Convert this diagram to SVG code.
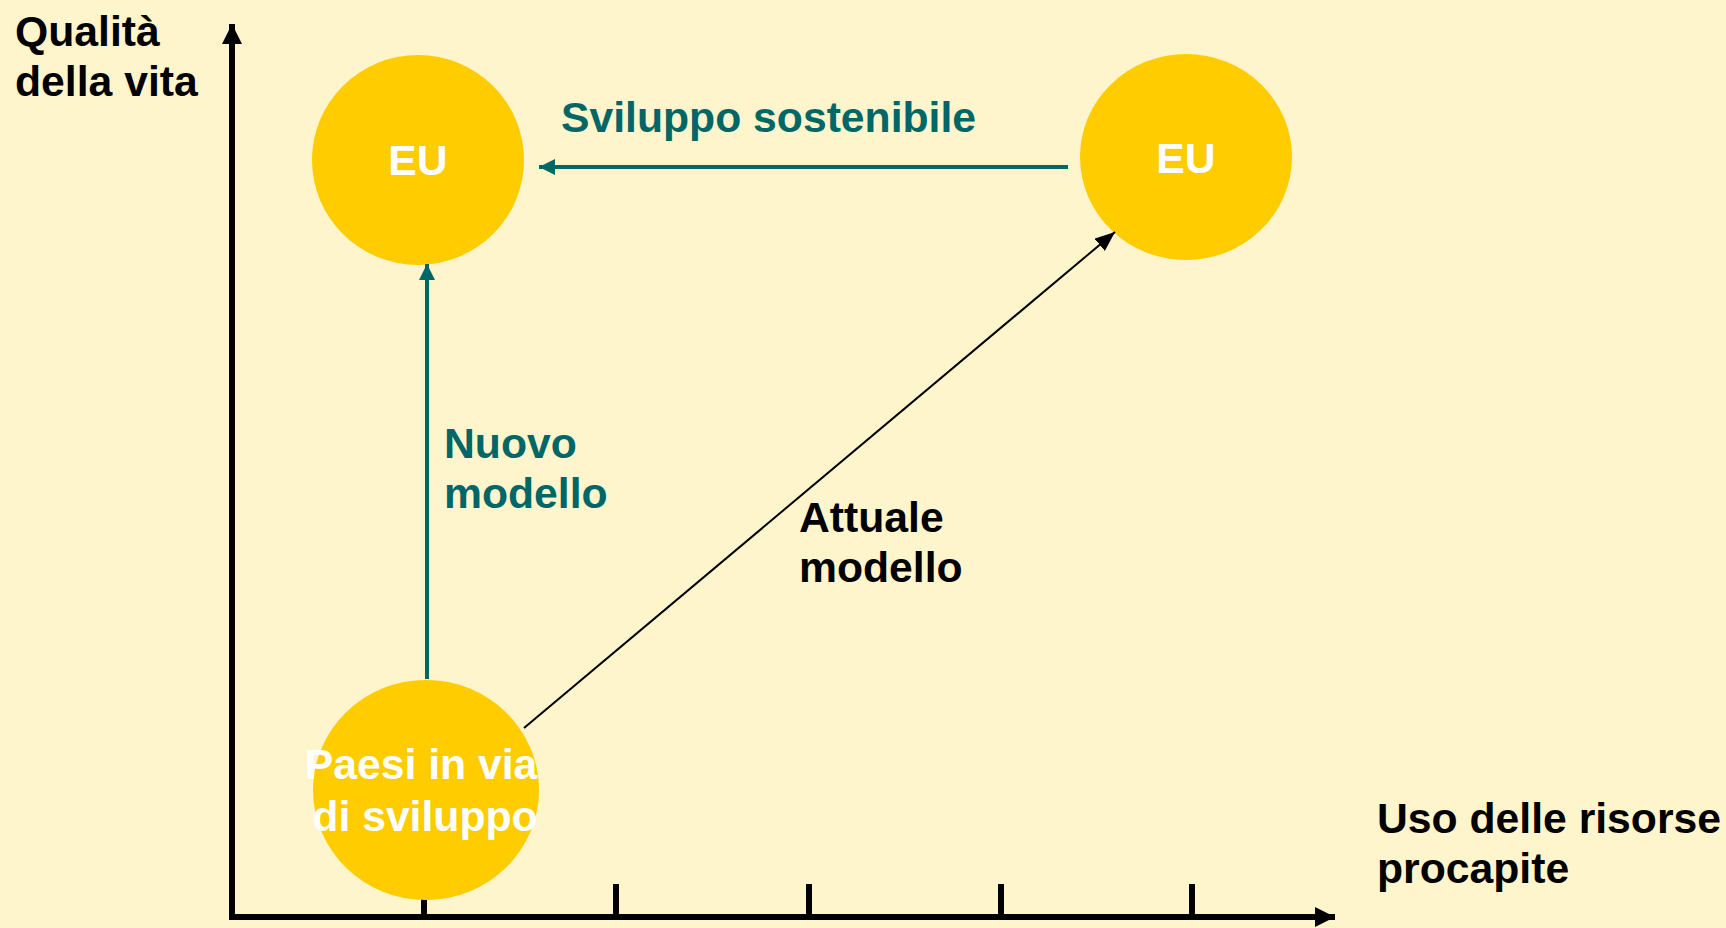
<svg xmlns="http://www.w3.org/2000/svg" width="1726" height="928" viewBox="0 0 1726 928">
<style>
.t{font-family:"Liberation Sans",Arial,sans-serif;font-weight:bold;font-size:42.7px}
.blk{fill:#000}
.teal{fill:#006666}
.wht{fill:#fff}
.circ{fill:#FFCC00}
</style>
<defs>
<marker id="axh" viewBox="0 0 20 20" refX="20" refY="10" markerWidth="22" markerHeight="20" orient="auto" markerUnits="userSpaceOnUse"><path d="M0,0 L20,10 L0,20 z" fill="#000"/></marker>
<marker id="th" viewBox="0 0 16 16" refX="16" refY="8" markerWidth="16" markerHeight="16" orient="auto" markerUnits="userSpaceOnUse"><path d="M0,0 L16,8 L0,16 z" fill="#006666"/></marker>
<marker id="bh" viewBox="0 0 20 16" refX="20" refY="8" markerWidth="20" markerHeight="16" orient="auto" markerUnits="userSpaceOnUse"><path d="M0,0 L20,8 L0,16 z" fill="#000"/></marker>
</defs>
<rect width="1726" height="928" fill="#FEF5CD"/>
<g id="axes">
<line x1="232" y1="919" x2="232" y2="24" stroke="#000" stroke-width="6" marker-end="url(#axh)"/>
<line x1="229" y1="917" x2="1335" y2="917" stroke="#000" stroke-width="6" marker-end="url(#axh)"/>
<g stroke="#000" stroke-width="6">
<line x1="424" y1="884" x2="424" y2="917"/>
<line x1="616" y1="884" x2="616" y2="917"/>
<line x1="809" y1="884" x2="809" y2="917"/>
<line x1="1001" y1="884" x2="1001" y2="917"/>
<line x1="1192" y1="884" x2="1192" y2="917"/>
</g>
<text class="t blk" x="15" y="46">Qualità</text>
<text class="t blk" x="15" y="96">della vita</text>
<text class="t blk" x="1377" y="833">Uso delle risorse</text>
<text class="t blk" x="1377" y="883">procapite</text>
</g>
<g id="node-eu-left">
<ellipse class="circ" cx="418" cy="160" rx="106" ry="105"/>
<text class="t wht" x="418" y="175" text-anchor="middle">EU</text>
</g>
<g id="node-eu-right">
<ellipse class="circ" cx="1186" cy="157" rx="106" ry="103"/>
<text class="t wht" x="1186" y="173" text-anchor="middle">EU</text>
</g>
<g id="connectors">
<line x1="1068" y1="167" x2="539" y2="167" stroke="#006666" stroke-width="4" marker-end="url(#th)"/>
<line x1="427" y1="679" x2="427" y2="264" stroke="#006666" stroke-width="4" marker-end="url(#th)"/>
<line x1="524" y1="728" x2="1115" y2="232" stroke="#000" stroke-width="2" marker-end="url(#bh)"/>
<text class="t teal" x="561" y="132">Sviluppo sostenibile</text>
<text class="t teal" x="444" y="458">Nuovo</text>
<text class="t teal" x="444" y="508">modello</text>
<text class="t blk" x="799" y="532">Attuale</text>
<text class="t blk" x="799" y="582">modello</text>
</g>
<g id="node-paesi">
<ellipse class="circ" cx="426" cy="790" rx="113" ry="110"/>
<text class="t wht" x="421" y="779" text-anchor="middle">Paesi in via</text>
<text class="t wht" x="425" y="831" text-anchor="middle">di sviluppo</text>
</g>
</svg>
